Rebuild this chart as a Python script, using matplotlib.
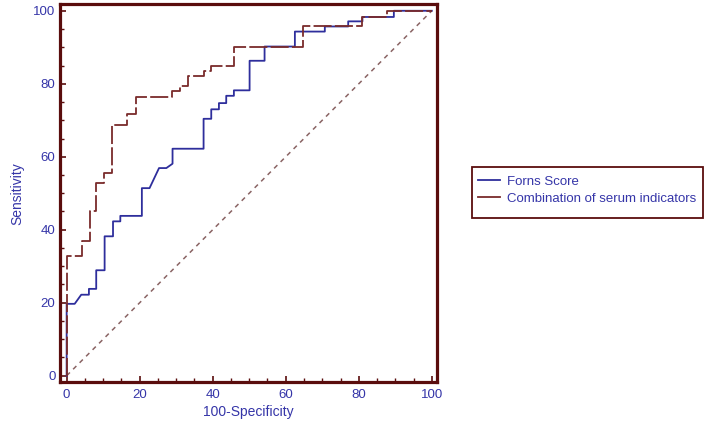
import matplotlib
matplotlib.use("Agg")
import matplotlib.pyplot as plt
import matplotlib.lines as mlines
from matplotlib.patches import Rectangle
from matplotlib.ticker import MultipleLocator

plt.rcParams['font.family'] = ['Liberation Sans', 'DejaVu Sans']

# ROC vertices (100-Specificity, Sensitivity)
forns_x = [0, 0, 2.2, 4.0, 6.1, 6.1, 8.1, 8.1, 10.4, 10.4, 12.7, 12.7, 14.7, 14.7,
           20.6, 20.6, 22.7, 25.3, 27.3, 29.0, 29.0, 37.5, 37.5, 39.6, 39.6, 41.7,
           41.7, 43.7, 43.7, 45.8, 45.8, 50.1, 50.1, 54.2, 54.2, 62.5, 62.5, 70.7,
           70.7, 77.1, 77.1, 81.0, 81.0, 89.6, 89.6, 100]
forns_y = [0, 19.7, 19.7, 22.2, 22.2, 23.8, 23.8, 28.9, 28.9, 38.2, 38.2, 42.3, 42.3, 43.8,
           43.8, 51.4, 51.4, 56.9, 56.9, 58.1, 62.2, 62.2, 70.4, 70.4, 73.0, 73.0,
           74.7, 74.7, 76.7, 76.7, 78.2, 78.2, 86.3, 86.3, 90.2, 90.2, 94.3, 94.3,
           95.7, 95.7, 97.1, 97.1, 98.3, 98.3, 100, 100]

combo_x = [0, 0, 4.2, 4.2, 6.3, 6.3, 8.1, 8.1, 10.2, 10.2, 12.5, 12.5, 16.6, 16.6,
           18.9, 18.9, 28.9, 28.9, 31.1, 31.1, 33.2, 33.2, 37.5, 37.5, 39.6, 39.6,
           45.8, 45.8, 64.6, 64.6, 81.0, 81.0, 87.6, 87.6, 100]
combo_y = [0, 32.9, 32.9, 36.8, 36.8, 45.0, 45.0, 52.8, 52.8, 55.5, 55.5, 68.8, 68.8, 71.7,
           71.7, 76.5, 76.5, 77.9, 77.9, 79.5, 79.5, 82.2, 82.2, 83.4, 83.4, 84.9,
           84.9, 90.2, 90.2, 95.7, 95.7, 98.3, 98.3, 100, 100]

ref_x = [0, 100]
ref_y = [0, 100]

series_labels = ["Forns Score", "Combination of serum indicators"]
ticks = [0, 20, 40, 60, 80, 100]

blue = "#2e2e9c"
maroon = "#7a2b2b"
spine_c = "#5a0d0d"
text_c = "#3535a8"

fig = plt.figure(figsize=(7.14, 4.30), dpi=100)
ax = fig.add_axes([59.7/714, 1-382.3/430, (437.3-59.7)/714, (382.3-4.2)/430])

ax.plot(ref_x, ref_y, color="#8a6464", lw=1.1, linestyle=(0, (3, 3)))
ax.plot(forns_x, forns_y, color=blue, lw=1.3, label=series_labels[0])
ax.plot(combo_x, combo_y, color=maroon, lw=1.3, linestyle=(0, (10, 1.8)),
        label=series_labels[1])

ax.set_xlim(-1.9, 101.5)
ax.set_ylim(-1.8, 101.8)
ax.set_xticks(ticks)
ax.set_yticks(ticks)
ax.xaxis.set_minor_locator(MultipleLocator(5))
ax.yaxis.set_minor_locator(MultipleLocator(5))
ax.tick_params(which='major', direction='in', length=4.5, width=1.2, color=spine_c,
               labelsize=9.5, labelcolor=text_c, pad=5)
ax.tick_params(axis='y', which='major', pad=3)
ax.tick_params(which='minor', direction='in', length=3, width=1.0, color=spine_c)
for s in ax.spines.values():
    s.set_color(spine_c)
    s.set_linewidth(2.3)

ax.set_xlabel("100-Specificity", fontsize=10, color=text_c, labelpad=3)
ax.set_ylabel("Sensitivity", fontsize=10, color=text_c, labelpad=6.5)

h1 = mlines.Line2D([], [], color=blue, lw=1.3)
h2 = mlines.Line2D([], [], color=maroon, lw=1.3)
leg = fig.legend([h1, h2], series_labels, loc='upper left',
                 bbox_to_anchor=(478/714, 1-175.7/430), fontsize=9.5,
                 frameon=False, borderpad=0, handlelength=1.65,
                 handletextpad=0.55, labelspacing=0.34, borderaxespad=0)
for t in leg.get_texts():
    t.set_color(text_c)

fig.patches.append(Rectangle((471.7/714, 1-218.3/430), 231/714, 51.6/430,
                             transform=fig.transFigure, fill=False,
                             edgecolor=spine_c, linewidth=1.3))

fig.savefig("out.png", dpi=100)
